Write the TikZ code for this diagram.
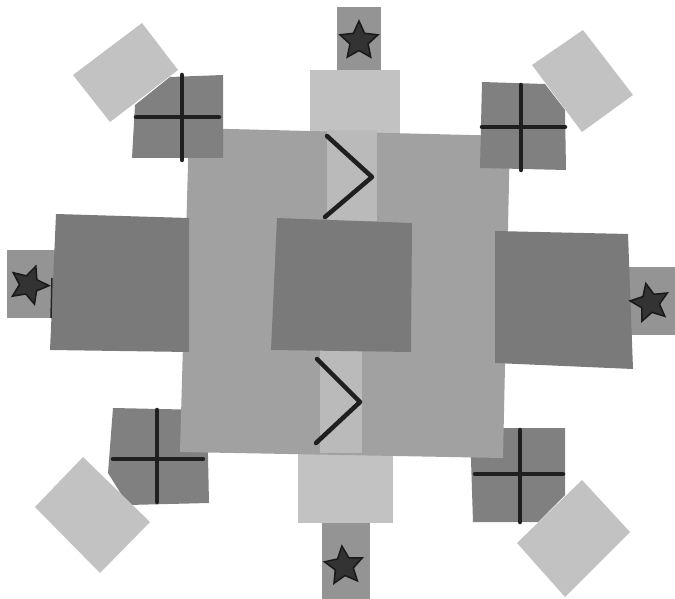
\documentclass[tikz,border=0pt]{standalone}
\usetikzlibrary{shapes.geometric}

\tikzset{
    startab/.style={fill=black!42},
    lighttab/.style={fill=black!24},
    band/.style={fill=black!27},
    plate/.style={fill=black!37},
    darkpaper/.style={fill=black!52},
    crosspaper/.style={fill=black!50},
    pen/.style={line width=4.5pt, line cap=round, line join=round, draw=black!88},
    starmark/.style={star, star points=5, star point ratio=2.1, minimum size=40pt,
        inner sep=0pt, fill=black!80, draw=black!90, line width=1.5pt}
}

\begin{document}
\begin{tikzpicture}[x=1pt,y=-1pt]

\useasboundingbox (0,0) rectangle (675,599);

% Star tabs
\fill[startab] (337,7) rectangle (381,71);
\fill[startab] (7,250) rectangle (56,318);
\fill[startab] (626,267) rectangle (675,335);
\fill[startab] (322,521) rectangle (370,599);

% Top and bottom light tabs
\fill[lighttab] (310,70) rectangle (400,140);
\fill[lighttab] (298,445) rectangle (393,523);

% Lower cross squares (under the plate)
\fill[crosspaper] (113,408) -- (207,410) -- (209,503) -- (128,505) -- (108,473) -- cycle;
\fill[crosspaper] (470,428) -- (565,428) -- (565,495) -- (538,522) -- (473,522) -- cycle;

% Main plate
\fill[plate] (189,128) -- (510,136) -- (503,458) -- (180,452) -- cycle;

% Lighter strips under the chevrons
\fill[band] (327,130) rectangle (377,221);
\fill[band] (320,350) rectangle (362,453);

% Dark rectangles
\fill[darkpaper] (56,214) -- (189,218) -- (189,352) -- (50,350) -- cycle;
\fill[darkpaper] (277,218) -- (412,223) -- (411,352) -- (271,350) -- cycle;
\fill[darkpaper] (495,231) -- (628,234) -- (633,369) -- (495,363) -- cycle;

% Upper cross squares
\fill[crosspaper] (135,105) -- (170,77) -- (223,75) -- (223,158) -- (132,158) -- cycle;
\fill[crosspaper] (482,82) -- (545,84) -- (565,110) -- (566,170) -- (480,168) -- cycle;

% Light corner squares
\fill[lighttab] (73,75) -- (142,23) -- (178,70) -- (110,122) -- cycle;
\fill[lighttab] (532,65) -- (583,30) -- (633,95) -- (582,132) -- cycle;
\fill[lighttab] (35,507) -- (83,457) -- (150,522) -- (100,573) -- cycle;
\fill[lighttab] (517,543) -- (582,480) -- (630,532) -- (565,597) -- cycle;

% Crosses
\foreach \vx/\vt/\vb/\hy/\hl/\hr in {182/75/160/117/136/219, 521/85/170/127/482/565,
    157/410/502/459/113/203, 520/430/522/474/475/563}
{
\draw[pen] (\vx,\vt) -- (\vx,\vb);
\draw[pen] (\hl,\hy) -- (\hr,\hy);
}

% Chevrons
\draw[pen] (327,136) -- (372,177) -- (325,217);
\draw[pen] (317,359) -- (360,402) -- (316,443);

% Edge line on the left rectangle
\draw[black!85, line width=1.5pt] (52,278) -- (51,318);

% Stars
\foreach \sx/\sy/\rot/\nm in {359/41/0/top, 29/285/-20/left, 650/303/12/right, 344/566/6/bottom}
{
\node[starmark, rotate=\rot] (star-\nm) at (\sx,\sy) {};
}

\end{tikzpicture}
\end{document}
